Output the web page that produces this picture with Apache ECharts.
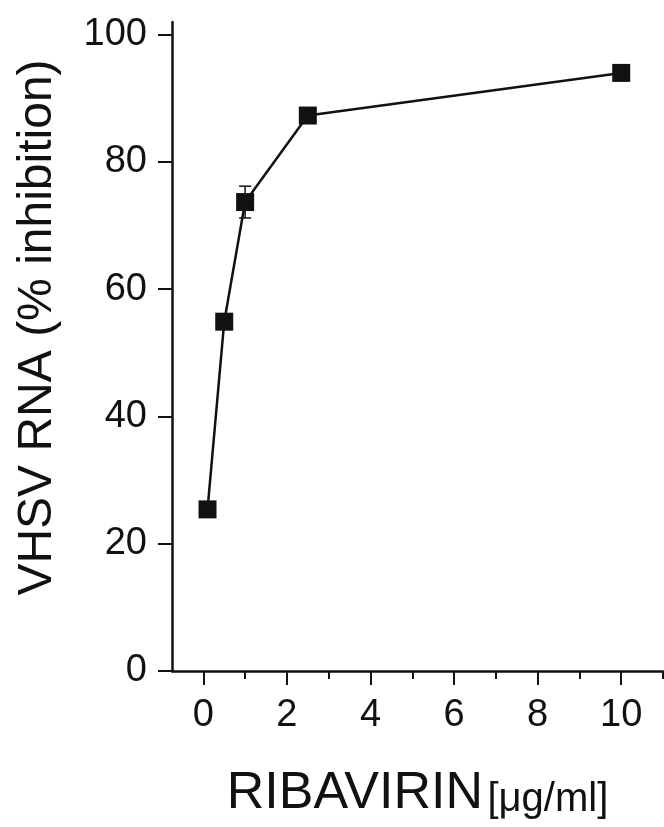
<!DOCTYPE html>
<html>
<head>
<meta charset="utf-8">
<script src="https://cdn.jsdelivr.net/npm/echarts@6/dist/echarts.min.js"></script>
<style>
html,body{margin:0;padding:0;background:#fff;}
#chart{width:664px;height:827px;}
</style>
</head>
<body>
<div id="chart"></div>
<script>
var doses = [0.1, 0.5, 1, 2.5, 10];
var inhibition = [25.4, 54.9, 73.7, 87.3, 94.0];
var errors = [0, 0, 2.5, 0, 0];
var xMajorTicks = [0, 2, 4, 6, 8, 10];
var xMinorTicks = [1, 3, 5, 7, 9, 11];
var yTicks = [0, 20, 40, 60, 80, 100];

var FONT = '"Liberation Sans", Arial, sans-serif';
var INK = '#111';

var points = doses.map(function (d, i) { return [d, inhibition[i]]; });
var errData = doses.map(function (d, i) { return [d, inhibition[i], errors[i]]; });

var chart = echarts.init(document.getElementById('chart'), null, {renderer: 'canvas'});
chart.setOption({
  animation: false,
  backgroundColor: '#fff',
  grid: {left: 172, right: 1, top: 22, bottom: 156, containLabel: false, outerBoundsMode: 'none'},
  xAxis: [{
    type: 'value', min: -0.75, max: 11, position: 'bottom',
    axisLine: {show: true, onZero: false, lineStyle: {color: INK, width: 2.5}},
    axisTick: {show: true, inside: false, length: 14, lineStyle: {color: INK, width: 2}, customValues: xMajorTicks},
    axisLabel: {show: true, margin: 26, fontSize: 38, fontFamily: FONT, color: INK, customValues: xMajorTicks},
    splitLine: {show: false},
    name: '{a|RIBAVIRIN}{s| }{b|[μg/ml]}',
    nameLocation: 'middle',
    nameGap: 97,
    nameTextStyle: {
      fontFamily: FONT, color: INK,
      rich: {
        a: {fontSize: 52, fontFamily: FONT, color: INK, verticalAlign: 'bottom'},
        s: {fontSize: 16, fontFamily: FONT, color: INK, verticalAlign: 'bottom'},
        b: {fontSize: 40, fontFamily: FONT, color: INK, verticalAlign: 'bottom'}
      }
    }
  }, {
    type: 'value', min: -0.75, max: 11, position: 'bottom',
    axisLine: {show: false, onZero: false},
    axisTick: {show: true, inside: false, length: 8, lineStyle: {color: INK, width: 2}, customValues: xMinorTicks},
    axisLabel: {show: false},
    splitLine: {show: false}
  }],
  yAxis: {
    type: 'value', min: 0, max: 102,
    axisLine: {show: true, onZero: false, lineStyle: {color: INK, width: 2.5}},
    axisTick: {show: true, inside: false, length: 14, lineStyle: {color: INK, width: 2}, customValues: yTicks},
    axisLabel: {show: true, margin: 25, fontSize: 38, fontFamily: FONT, color: INK, customValues: yTicks},
    splitLine: {show: false},
    name: 'VHSV RNA (% inhibition)',
    nameLocation: 'middle',
    nameGap: 110,
    nameRotate: 90,
    nameTextStyle: {fontSize: 48, fontFamily: FONT, color: INK, padding: [0, 0, 0, 38]}
  },
  series: [{
    type: 'line',
    data: points,
    xAxisIndex: 0,
    symbol: 'rect',
    symbolSize: 18,
    lineStyle: {color: INK, width: 2.5},
    itemStyle: {color: INK},
    z: 3
  }, {
    type: 'custom',
    xAxisIndex: 0,
    data: errData,
    z: 2,
    renderItem: function (params, api) {
      var x = api.value(0), y = api.value(1), e = api.value(2);
      if (!e) return null;
      var top = api.coord([x, y + e]);
      var bot = api.coord([x, y - e]);
      var hw = 6;
      var st = {stroke: INK, lineWidth: 1.5};
      return {
        type: 'group',
        children: [
          {type: 'line', shape: {x1: top[0], y1: top[1], x2: bot[0], y2: bot[1]}, style: st},
          {type: 'line', shape: {x1: top[0] - hw, y1: top[1], x2: top[0] + hw, y2: top[1]}, style: st},
          {type: 'line', shape: {x1: bot[0] - hw, y1: bot[1], x2: bot[0] + hw, y2: bot[1]}, style: st}
        ]
      };
    }
  }]
});
</script>
</body>
</html>
